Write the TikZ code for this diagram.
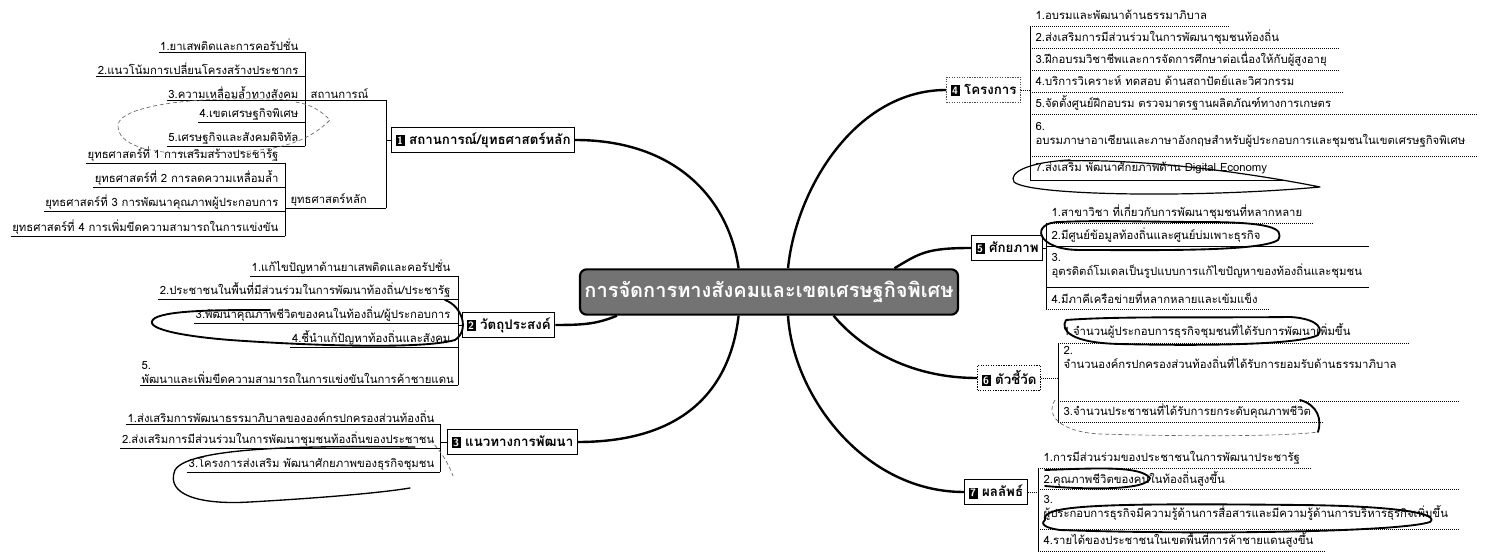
\documentclass[tikz,border=0pt]{standalone}
\usepackage{fontspec}
\newfontfamily\thai[Script=Thai]{Loma}
\usetikzlibrary{calc}
\newcommand{\numbox}[1]{{\setlength{\fboxsep}{1.2pt}\colorbox{black}{\textcolor{white}{\sffamily\bfseries\fontsize{8}{8}\selectfont #1}}}}
\tikzset{
	centre/.style={draw=black, line width=1.6pt, rounded corners=5pt, fill=black!55, text=white,
		minimum width=262pt, minimum height=34pt, font=\thai\bfseries\fontsize{15}{17}\selectfont},
	topic/.style={draw=black, line width=0.9pt, fill=white, inner xsep=3pt, inner ysep=2pt, minimum height=19pt,
		font=\thai\bfseries\fontsize{10}{12}\selectfont},
	leaf/.style={inner xsep=1pt, inner ysep=1pt, font=\thai\fontsize{8.5}{10.5}\selectfont},
	ritem/.style={leaf, anchor=west, align=left},
	branch/.style={line width=1.8pt},
	uline/.style={line width=0.6pt},
	sep/.style={densely dotted, line width=0.5pt},
	pen/.style={line width=1.4pt, line cap=round, line join=round},
	penthin/.style={densely dashed, line width=0.5pt, black!60}
}

\begin{document}
\begin{tikzpicture}[x=0.75pt, y=-0.75pt]
	%%%%% START %%%%%
	\useasboundingbox (0,0) rectangle (1497,559);
	
	% centre
	\node[centre] (c) at (769,292) {การจัดการทางสังคมและเขตเศรษฐกิจพิเศษ};
	
	% main topics
	\node[topic, anchor=west] (n1) at (391,140) {\numbox{1} สถานการณ์/ยุทธศาสตร์หลัก};
	\node[topic, anchor=west] (n2) at (462,325) {\numbox{2} วัตถุประสงค์};
	\node[topic, anchor=west] (n3) at (447,442) {\numbox{3} แนวทางการพัฒนา};
	\node[topic, anchor=west, draw=black!70, densely dotted] (n4) at (946,90) {\numbox{4} โครงการ};
	\node[topic, anchor=west] (n5) at (971,248) {\numbox{5} ศักยภาพ};
	\node[topic, anchor=west, densely dotted] (n6) at (977,378) {\numbox{6} ตัวชี้วัด};
	\node[topic, anchor=west] (n7) at (964,492) {\numbox{7} ผลลัพธ์};
	
	\draw[branch] (n1.east) .. controls +(100,0) and +(-10,-70) .. ($(c.north west)!0.42!(c.north east)$);
	\draw[branch] (n2.east) .. controls +(30,0) and +(-20,8) .. ($(c.south west)!0.10!(c.south east)$);
	\draw[branch] (n3.east) .. controls +(110,0) and +(-8,70) .. ($(c.south west)!0.42!(c.south east)$);
	\draw[branch] (n4.west) .. controls +(-90,0) and +(8,-80) .. ($(c.north west)!0.55!(c.north east)$);
	\draw[branch] (n5.west) .. controls +(-45,0) and +(25,-15) .. ($(c.north west)!0.83!(c.north east)$);
	\draw[branch] (n6.west) .. controls +(-70,0) and +(25,30) .. ($(c.south west)!0.67!(c.south east)$);
	\draw[branch] (n7.west) .. controls +(-100,0) and +(5,80) .. ($(c.south west)!0.55!(c.south east)$);
	
	% 1 : situation / strategy
	\node[leaf, anchor=south east] (s1) at (300,52) {1.ยาเสพติดและการคอรัปชั่น};
	\node[leaf, anchor=south east] (s2) at (300,76) {2.แนวโน้มการเปลี่ยนโครงสร้างประชากร};
	\node[leaf, anchor=south east] (s3) at (300,100) {3.ความเหลื่อมล้ำทางสังคม};
	\node[leaf, anchor=south east] (s4) at (300,122) {4.เขตเศรษฐกิจพิเศษ};
	\node[leaf, anchor=south east] (s5) at (300,146) {5.เศรษฐกิจและสังคมดิจิทัล};
	\foreach \i in {1,...,5} \draw[uline] (s\i.south west) -- (305,0 |- s\i.south);
	\draw[uline] (305,52) -- (305,146);
	\node[leaf, anchor=south west] (sit) at (309,100) {สถานการณ์};
	\draw[uline] (305,100) -- (386,100);
	
	\node[leaf, anchor=south east] (y1) at (280,163) {ยุทธศาสตร์ที่ 1 การเสริมสร้างประชารัฐ};
	\node[leaf, anchor=south east] (y2) at (280,187) {ยุทธศาสตร์ที่ 2 การลดความเหลื่อมล้ำ};
	\node[leaf, anchor=south east] (y3) at (280,211) {ยุทธศาสตร์ที่ 3 การพัฒนาคุณภาพผู้ประกอบการ};
	\node[leaf, anchor=south east] (y4) at (280,236) {ยุทธศาสตร์ที่ 4 การเพิ่มขีดความสามารถในการแข่งขัน};
	\foreach \i in {1,...,4} \draw[uline] (y\i.south west) -- (285,0 |- y\i.south);
	\draw[uline] (285,163) -- (285,236);
	\node[leaf, anchor=south west] (yut) at (289,208) {ยุทธศาสตร์หลัก};
	\draw[uline] (285,208) -- (386,208);
	\draw[uline] (386,100) -- (386,208);
	\draw[uline] (386,140) -- (n1.west);
	
	% 2 : objectives
	\node[leaf, anchor=south east] (o1) at (452,276) {1.แก้ไขปัญหาด้านยาเสพติดและคอรัปชั่น};
	\node[leaf, anchor=south east] (o2) at (452,299) {2.ประชาชนในพื้นที่มีส่วนร่วมในการพัฒนาท้องถิ่น/ประชารัฐ};
	\node[leaf, anchor=south east] (o3) at (452,323) {3.พัฒนาคุณภาพชีวิตของคนในท้องถิ่น/ผู้ประกอบการ};
	\node[leaf, anchor=south east] (o4) at (452,347) {4.ชี้นำแก้ปัญหาท้องถิ่นและสังคม};
	\node[leaf, anchor=south west, align=left] (o5) at (140,385) {5.\\พัฒนาและเพิ่มขีดความสามารถในการแข่งขันในการค้าชายแดน};
	\foreach \i in {1,...,5} \draw[uline] (o\i.south west) -- (458,0 |- o\i.south);
	\draw[uline] (458,276) -- (458,385);
	\draw[uline] (458,325) -- (n2.west);
	
	% 3 : guidelines
	\node[leaf, anchor=south east] (d1) at (436,424) {1.ส่งเสริมการพัฒนาธรรมาภิบาลขององค์กรปกครองส่วนท้องถิ่น};
	\node[leaf, anchor=south east] (d2) at (436,448) {2.ส่งเสริมการมีส่วนร่วมในการพัฒนาชุมชนท้องถิ่นของประชาชน};
	\node[leaf, anchor=south east] (d3) at (436,472) {3.โครงการส่งเสริม พัฒนาศักยภาพของธุรกิจชุมชน};
	\foreach \i in {1,...,3} \draw[uline] (d\i.south west) -- (440,0 |- d\i.south);
	\draw[uline] (440,424) -- (440,472);
	\draw[uline] (440,442) -- (n3.west);
	
	% 4 : projects
	\node[ritem] (p1) at (1034,15) {1.อบรมและพัฒนาด้านธรรมาภิบาล};
	\node[ritem] (p2) at (1034,37) {2.ส่งเสริมการมีส่วนร่วมในการพัฒนาชุมชนท้องถิ่น};
	\node[ritem] (p3) at (1034,59) {3.ฝึกอบรมวิชาชีพและการจัดการศึกษาต่อเนื่องให้กับผู้สูงอายุ};
	\node[ritem] (p4) at (1034,81) {4.บริการวิเคราะห์ ทดสอบ ด้านสถาปัตย์และวิศวกรรม};
	\node[ritem] (p5) at (1034,103) {5.จัดตั้งศูนย์ฝึกอบรม ตรวจมาตรฐานผลิตภัณฑ์ทางการเกษตร};
	\node[ritem] (p6) at (1034,135) {6.\\อบรมภาษาอาเซียนและภาษาอังกฤษสำหรับผู้ประกอบการและชุมชนในเขตเศรษฐกิจพิเศษ};
	\node[ritem] (p7) at (1034,168) {7.ส่งเสริม พัฒนาศักยภาพด้าน Digital Economy};
	\draw[sep] (1030,26) -- ($(p1.east |- 0,26)+(20,0)$);
	\draw[sep] (1030,48) -- ($(p3.east |- 0,48)+(10,0)$);
	\draw[sep] (1030,70) -- ($(p3.east |- 0,70)+(10,0)$);
	\draw[sep] (1030,92) -- ($(p5.east |- 0,92)+(10,0)$);
	\draw[sep] (1030,114) -- ($(p6.east |- 0,114)+(10,0)$);
	\draw[sep] (1030,156) -- ($(p6.east |- 0,156)+(10,0)$);
	\draw[uline] (1030,180) -- ($(p7.east |- 0,180)+(15,0)$);
	\draw[uline] (1030,26) -- (1030,180);
	\draw[sep] (n4.east) -- (1030,90);
	
	% 5 : potential
	\node[ritem] (q1) at (1050,212) {1.สาขาวิชา ที่เกี่ยวกับการพัฒนาชุมชนที่หลากหลาย};
	\node[ritem] (q2) at (1050,235) {2.มีศูนย์ข้อมูลท้องถิ่นและศูนย์บ่มเพาะธุรกิจ};
	\node[ritem] (q3) at (1050,266) {3.\\อุตรดิตถ์โมเดลเป็นรูปแบบการแก้ไขปัญหาของท้องถิ่นและชุมชน};
	\node[ritem] (q4) at (1050,298) {4.มีภาคีเครือข่ายที่หลากหลายและเข้มแข็ง};
	\draw[sep] (1046,223) -- ($(q1.east |- 0,223)+(10,0)$);
	\draw[uline] (1046,246) -- ($(q3.east |- 0,246)+(5,0)$);
	\draw[uline] (1046,287) -- ($(q3.east |- 0,287)+(5,0)$);
	\draw[sep] (1046,309) -- ($(q4.east |- 0,309)+(10,0)$);
	\draw[uline] (1046,223) -- (1046,309);
	\draw[uline] (n5.east) -- (1046,248);
	
	% 6 : indicators
	\node[ritem] (r1) at (1062,331) {1.จำนวนผู้ประกอบการธุรกิจชุมชนที่ได้รับการพัฒนาเพิ่มขึ้น};
	\node[ritem, anchor=north west] (r2) at (1062,345) {2.\\จำนวนองค์กรปกครองส่วนท้องถิ่นที่ได้รับการยอมรับด้านธรรมาภิบาล};
	\node[ritem] (r3) at (1062,411) {3.จำนวนประชาชนที่ได้รับการยกระดับคุณภาพชีวิต};
	\draw[sep] (1058,343) -- ($(r2.east |- 0,343)+(10,0)$);
	\draw[sep] (1058,401) -- ($(r2.east |- 0,401)+(60,0)$);
	\draw[sep] (1058,422) -- ($(r3.east |- 0,422)+(10,0)$);
	\draw[uline] (1058,343) -- (1058,422);
	\draw[sep] (n6.east) -- (1058,378);
	
	% 7 : outcomes
	\node[ritem] (t1) at (1042,458) {1.การมีส่วนร่วมของประชาชนในการพัฒนาประชารัฐ};
	\node[ritem] (t2) at (1042,479) {2.คุณภาพชีวิตของคนในท้องถิ่นสูงขึ้น};
	\node[ritem] (t3) at (1042,508) {3.\\ผู้ประกอบการธุรกิจมีความรู้ด้านการสื่อสารและมีความรู้ด้านการบริหารธุรกิจเพิ่มขึ้น};
	\node[ritem] (t4) at (1042,540) {4.รายได้ของประชาชนในเขตพื้นที่การค้าชายแดนสูงขึ้น};
	\draw[sep] (1038,468) -- ($(t1.east |- 0,468)+(10,0)$);
	\draw[sep] (1038,489) -- ($(t3.east |- 0,489)+(10,0)$);
	\draw[sep] (1038,529) -- ($(t3.east |- 0,529)+(10,0)$);
	\draw[sep] (1038,551) -- ($(t4.east |- 0,551)+(10,0)$);
	\draw[uline] (1038,468) -- (1038,551);
	\draw[sep] (n7.east) -- (1038,492);
	
	% pen marks
	\draw[penthin] (290,100) .. controls (200,95) and (120,105) .. (118,125) .. controls (117,145) and (150,155) .. (200,153) .. controls (260,152) and (300,150) .. (330,120) .. controls (320,110) and (310,104) .. (295,102);
	\draw[pen] (445,300) .. controls (462,306) and (470,330) .. (455,340) .. controls (420,350) and (300,345) .. (230,340) .. controls (180,336) and (140,328) .. (155,318) .. controls (170,310) and (220,310) .. (270,310);
	\draw[pen, line width=1pt] (415,447) .. controls (330,446) and (190,445) .. (175,470) .. controls (165,495) and (200,505) .. (250,502) .. controls (320,498) and (380,493) .. (410,488);
	\draw[penthin] (430,440) .. controls (440,450) and (448,462) .. (453,476);
	\draw[pen, line width=0.9pt] (1070,160) .. controls (1030,162) and (1008,172) .. (1014,182) .. controls (1030,196) and (1200,198) .. (1320,187) .. controls (1260,175) and (1150,158) .. (1060,161);
	\draw[pen] (1060,222) .. controls (1030,222) and (1035,250) .. (1080,250) .. controls (1150,250) and (1260,252) .. (1278,240) .. controls (1285,228) and (1270,222) .. (1200,222) .. controls (1150,222) and (1100,220) .. (1060,222);
	\draw[pen] (1066,320) .. controls (1060,330) and (1070,343) .. (1120,344) .. controls (1200,346) and (1300,345) .. (1318,335) .. controls (1325,325) and (1310,318) .. (1290,317) .. controls (1200,318) and (1120,316) .. (1066,320);
	\draw[penthin] (1055,400) .. controls (1045,415) and (1060,432) .. (1100,434) .. controls (1200,437) and (1290,436) .. (1318,432);
	\draw[pen] (1300,400) .. controls (1318,405) and (1322,420) .. (1318,432);
	\draw[pen] (1045,470) .. controls (1100,468) and (1140,466) .. (1150,478) .. controls (1148,490) and (1090,490) .. (1045,486);
	\draw[pen] (1045,520) .. controls (1040,505) and (1100,503) .. (1300,505) .. controls (1400,506) and (1440,514) .. (1430,522) .. controls (1400,532) and (1200,535) .. (1060,530) .. controls (1045,528) and (1040,524) .. (1045,520);
	
	%%%%% END %%%%%
\end{tikzpicture}
\end{document}
